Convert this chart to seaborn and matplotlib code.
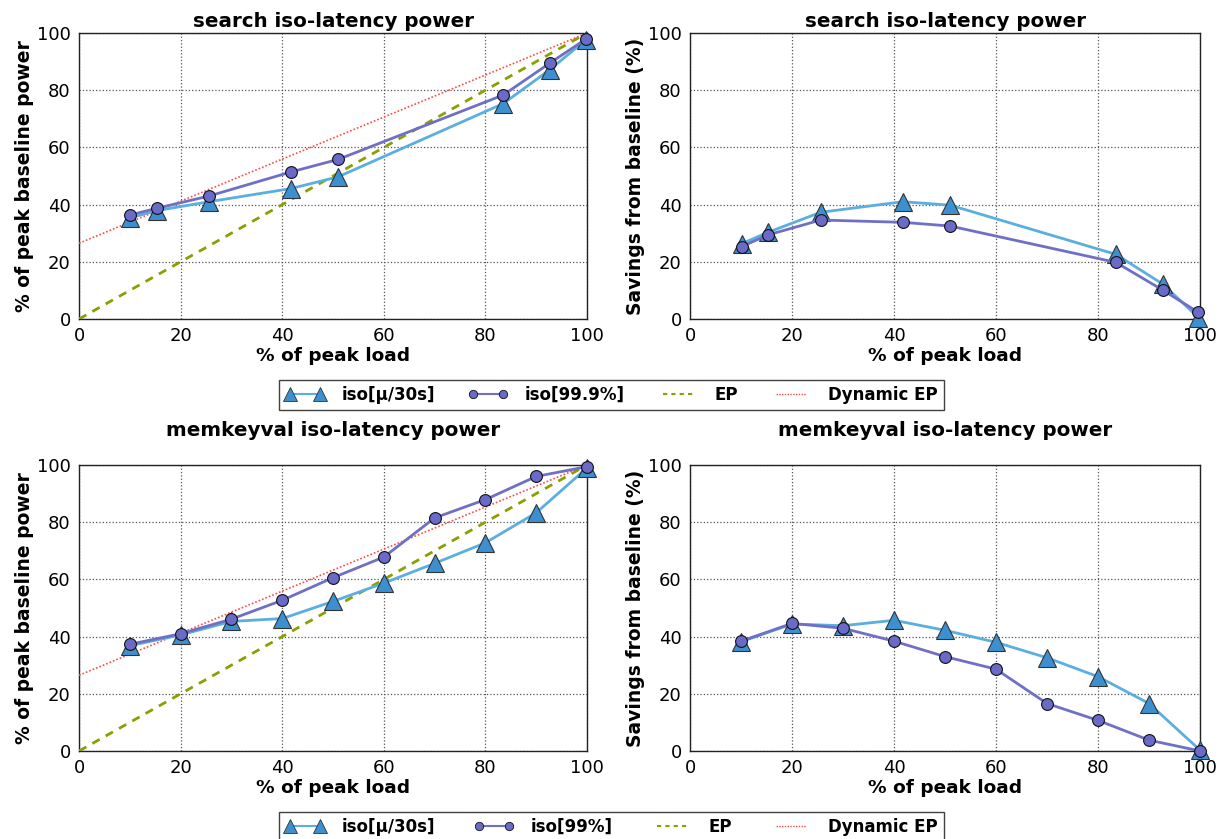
import matplotlib
matplotlib.use("Agg")
import matplotlib.pyplot as plt
import seaborn as sns
import pandas as pd
from matplotlib.lines import Line2D

# search workload
search_load = [10.1, 15.3, 25.6, 41.7, 51.0, 83.5, 92.7, 99.7]
search_power_mu = [35.4, 37.9, 41.0, 45.6, 49.7, 75.3, 87.2, 97.5]
search_power_999 = [36.4, 38.7, 43.0, 51.4, 55.8, 78.3, 89.5, 97.8]
search_save_mu = [26.3, 30.3, 37.3, 41.0, 39.8, 22.6, 12.2, 0.5]
search_save_999 = [25.3, 29.4, 34.6, 33.8, 32.5, 19.8, 10.1, 2.3]

# memkeyval workload
mkv_load = [10, 20, 30, 40, 50, 60, 70, 80, 90, 100]
mkv_power_mu = [36.8, 40.6, 45.3, 46.3, 52.3, 58.7, 65.6, 72.8, 83.3, 99.0]
mkv_power_99 = [37.3, 41.0, 46.1, 52.7, 60.6, 67.8, 81.5, 87.9, 96.0, 99.4]
mkv_save_mu = [38.2, 44.4, 43.8, 45.7, 42.2, 38.0, 32.6, 26.0, 16.6, 0.3]
mkv_save_99 = [38.4, 44.6, 42.9, 38.4, 33.0, 28.6, 16.6, 10.7, 3.8, 0.0]

ep_x = [0, 100]
ep_y = [0, 100]
dyn_ep_y = [26.5, 100]

C_MU_LINE = "#5aaee0"
C_MU_FILL = "#3d90d0"
C_99_LINE = "#6f6fc6"
C_99_FILL = "#6a6ac8"
C_EP = "#88a000"
C_DYN = "#ff4a4a"

sns.set_theme(style="white")
plt.rcParams['font.family'] = ['DejaVu Sans']
plt.rcParams['text.color'] = 'black'
plt.rcParams['axes.labelcolor'] = 'black'
plt.rcParams['xtick.color'] = 'black'
plt.rcParams['ytick.color'] = 'black'

fig = plt.figure(figsize=(12.2, 8.39), dpi=100)

pos = {
    "tl": [0.0648, 0.6198, 0.4164, 0.3409],
    "tr": [0.5656, 0.6198, 0.4180, 0.3409],
    "bl": [0.0648, 0.1049, 0.4164, 0.3409],
    "br": [0.5656, 0.1049, 0.4180, 0.3409],
}


def series(ax, x, y, kind):
    df = pd.DataFrame({"x": x, "y": y})
    if kind == "mu":
        sns.lineplot(data=df, x="x", y="y", ax=ax, color=C_MU_LINE, lw=2,
                     marker="^", markersize=12.5, markerfacecolor=C_MU_FILL,
                     markeredgecolor="#333333", markeredgewidth=0.8,
                     clip_on=False, zorder=5)
    else:
        sns.lineplot(data=df, x="x", y="y", ax=ax, color=C_99_LINE, lw=2,
                     marker="o", markersize=8.5, markerfacecolor=C_99_FILL,
                     markeredgecolor="#111111", markeredgewidth=0.8,
                     clip_on=False, zorder=6)


def style_ax(ax, title, ylabel, tpad):
    ax.set_xlim(0, 100)
    ax.set_ylim(0, 100)
    ax.set_xticks(range(0, 101, 20))
    ax.set_yticks(range(0, 101, 20))
    ax.grid(True, linestyle=":", color="#555555", lw=0.9)
    ax.set_title(title, fontsize=14.3, fontweight="bold", pad=tpad)
    ax.set_xlabel("% of peak load", fontsize=13.3, fontweight="bold", labelpad=1)
    ax.set_ylabel(ylabel, fontsize=13.5, fontweight="bold", labelpad=2)
    ax.tick_params(labelsize=13, length=0, pad=6)
    for s in ax.spines.values():
        s.set_color("#222222")
        s.set_linewidth(1.0)


def ep_lines(ax):
    ax.plot(ep_x, ep_y, color=C_EP, ls=(0, (3, 2.5)), lw=2, zorder=3)
    ax.plot(ep_x, dyn_ep_y, color=C_DYN, ls=(0, (1, 1.2)), lw=1.2, zorder=3)


ax = fig.add_axes(pos["tl"])
ep_lines(ax)
series(ax, search_load, search_power_mu, "mu")
series(ax, search_load, search_power_999, "99")
style_ax(ax, "search iso-latency power", "% of peak baseline power", 4)

ax = fig.add_axes(pos["tr"])
series(ax, search_load, search_save_mu, "mu")
series(ax, search_load, search_save_999, "99")
style_ax(ax, "search iso-latency power", "Savings from baseline (%)", 4)

ax = fig.add_axes(pos["bl"])
ep_lines(ax)
series(ax, mkv_load, mkv_power_mu, "mu")
series(ax, mkv_load, mkv_power_99, "99")
style_ax(ax, "memkeyval iso-latency power", "% of peak baseline power", 21)

ax = fig.add_axes(pos["br"])
series(ax, mkv_load, mkv_save_mu, "mu")
series(ax, mkv_load, mkv_save_99, "99")
style_ax(ax, "memkeyval iso-latency power", "Savings from baseline (%)", 21)


def legend_handles():
    return [
        Line2D([], [], color=C_MU_LINE, lw=1.5, marker="^", markersize=10,
               markerfacecolor=C_MU_FILL, markeredgecolor="#333333", markeredgewidth=0.6),
        Line2D([], [], color=C_99_LINE, lw=1.5, marker="o", markersize=6,
               markerfacecolor=C_99_FILL, markeredgecolor="#111111", markeredgewidth=0.6),
        Line2D([], [], color=C_EP, ls=(0, (2, 2)), lw=1.5),
        Line2D([], [], color=C_DYN, ls=(0, (1, 1)), lw=1.0),
    ]


for labels, yc in [(["iso[μ/30s]", "iso[99.9%]", "EP", "Dynamic EP"], 0.529),
                   (["iso[μ/30s]", "iso[99%]", "EP", "Dynamic EP"], 0.0145)]:
    leg = fig.legend(legend_handles(), labels, loc="center",
                     bbox_to_anchor=(0.2221, yc, 0.5581, 0), mode="expand",
                     ncol=4, numpoints=2, handlelength=2.4, handletextpad=1.0,
                     columnspacing=2.0, frameon=True, fancybox=False,
                     borderpad=0.35, prop={"weight": "bold", "size": 12})
    leg.get_frame().set_edgecolor("#111111")
    leg.get_frame().set_linewidth(1.0)

fig.savefig("out.png", dpi=100)
